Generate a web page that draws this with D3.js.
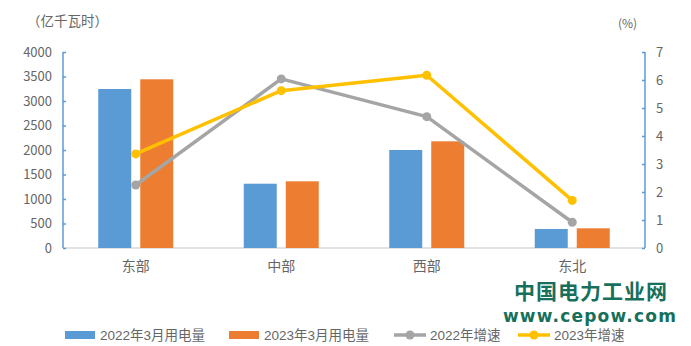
<!DOCTYPE html>
<html><head><meta charset="utf-8">
<script src="https://cdn.jsdelivr.net/npm/d3@7"></script>
<style>body{margin:0;background:#fff}svg{display:block}</style>
</head><body>
<script>
const categories = ["东部","中部","西部","东北"];
const power2022 = [3245, 1312, 2000, 388];
const power2023 = [3443, 1361, 2177, 402];
const growth2022 = [2.25, 6.04, 4.69, 0.92];
const growth2023 = [3.36, 5.62, 6.17, 1.70];
const leftTicks = [0,500,1000,1500,2000,2500,3000,3500,4000];
const rightTicks = [0,1,2,3,4,5,6,7];
const seriesNames = ["2022年3月用电量","2023年3月用电量","2022年增速","2023年增速"];

(function(){
const W=691,H=346;
const font='"Noto Sans CJK SC","Liberation Sans",sans-serif';
const legFont='"Liberation Sans","Noto Sans CJK SC",sans-serif';
const svg=d3.select("body").append("svg").attr("width",W).attr("height",H);
const pL=63,pR=645,pT=52,pB=248;
const x=d3.scaleBand().domain(categories).range([pL,pR]);
const yL=d3.scaleLinear().domain([0,4000]).range([pB,pT]);
const yR=d3.scaleLinear().domain([0,7]).range([pB,pT]);
const blue="#5b9bd5",orange="#ed7d31",gray="#a5a5a5",yellow="#ffc000",txt="#666";

svg.append("line").attr("x1",pL).attr("x2",pR).attr("y1",pB).attr("y2",pB).attr("stroke","#d9d9d9").attr("stroke-width",1.5);

const gL=svg.append("g").attr("transform",`translate(${pL},0)`).call(d3.axisRight(yL).tickValues(leftTicks).tickSize(3).tickFormat(""));
gL.selectAll("path,line").attr("stroke",blue).attr("stroke-width",1.5);
gL.select("path").attr("d",`M0,${pT}V${pB}`);
svg.append("g").selectAll("text").data(leftTicks).join("text")
  .attr("x",52).attr("y",d=>yL(d)).attr("dy","0.35em").attr("text-anchor","end")
  .attr("font-family",font).attr("font-size",13).attr("fill",txt).text(d=>d);

const gR=svg.append("g").attr("transform",`translate(${pR},0)`).call(d3.axisLeft(yR).tickValues(rightTicks).tickSize(3).tickFormat(""));
gR.selectAll("path,line").attr("stroke",blue).attr("stroke-width",1.5);
gR.select("path").attr("d",`M0,${pT}V${pB}`);
svg.append("g").selectAll("text").data(rightTicks).join("text")
  .attr("x",656).attr("y",d=>yR(d)).attr("dy","0.35em").attr("text-anchor","start")
  .attr("font-family",font).attr("font-size",13).attr("fill",txt).text(d=>d);

const bw=33,gap=9;
const cx=c=>x(c)+x.bandwidth()/2;
svg.append("g").selectAll("rect").data(categories).join("rect")
  .attr("x",c=>cx(c)-gap/2-bw).attr("width",bw)
  .attr("y",(c,i)=>yL(power2022[i])).attr("height",(c,i)=>pB-yL(power2022[i]))
  .attr("fill",blue);
svg.append("g").selectAll("rect").data(categories).join("rect")
  .attr("x",c=>cx(c)+gap/2).attr("width",bw)
  .attr("y",(c,i)=>yL(power2023[i])).attr("height",(c,i)=>pB-yL(power2023[i]))
  .attr("fill",orange);

function drawLine(vals,color){
  const pts=categories.map((c,i)=>[cx(c),yR(vals[i])]);
  svg.append("path").attr("d",d3.line()(pts)).attr("fill","none").attr("stroke",color).attr("stroke-width",3.5).attr("stroke-linejoin","round");
  svg.append("g").selectAll("circle").data(pts).join("circle").attr("cx",d=>d[0]).attr("cy",d=>d[1]).attr("r",4.5).attr("fill",color);
}
drawLine(growth2022,gray);
drawLine(growth2023,yellow);

svg.append("g").selectAll("text").data(categories).join("text")
  .attr("x",c=>cx(c)).attr("y",271).attr("text-anchor","middle")
  .attr("font-family",font).attr("font-size",14).attr("fill",txt).text(c=>c);

svg.append("text").attr("x",27).attr("y",26).attr("font-family",font).attr("font-size",13.5).attr("fill",txt).text("（亿千瓦时）");
svg.append("text").attr("x",618).attr("y",28).attr("font-family",font).attr("font-size",12).attr("fill",txt).text("(%)");

svg.append("text").attr("x",591).attr("y",299).attr("text-anchor","middle").attr("font-family",font).attr("font-weight","bold").attr("font-size",21).attr("letter-spacing",1).attr("fill","#17705b").text("中国电力工业网");
svg.append("text").attr("x",590).attr("y",322).attr("text-anchor","middle").attr("font-family",'"DejaVu Sans",sans-serif').attr("font-weight","bold").attr("font-size",17).attr("letter-spacing",1.2).attr("fill","#17705b").text("www.cepow.com");

const legY=335;
const legX=[65,229,394,518];
const colors=[blue,orange,gray,yellow];
seriesNames.forEach((n,i)=>{
  const g=svg.append("g");
  if(i<2){
    g.append("rect").attr("x",legX[i]).attr("y",legY-4).attr("width",30).attr("height",8).attr("fill",colors[i]);
  } else {
    g.append("line").attr("x1",legX[i]).attr("x2",legX[i]+32).attr("y1",legY).attr("y2",legY).attr("stroke",colors[i]).attr("stroke-width",3.5);
    g.append("circle").attr("cx",legX[i]+16).attr("cy",legY).attr("r",4.5).attr("fill",colors[i]);
  }
  g.append("text").attr("x",legX[i]+(i<2?35:36)).attr("y",legY).attr("dy","0.35em").attr("font-family",legFont).attr("font-size",13.5).attr("fill",txt).text(n);
});
})();
</script>
</body></html>
